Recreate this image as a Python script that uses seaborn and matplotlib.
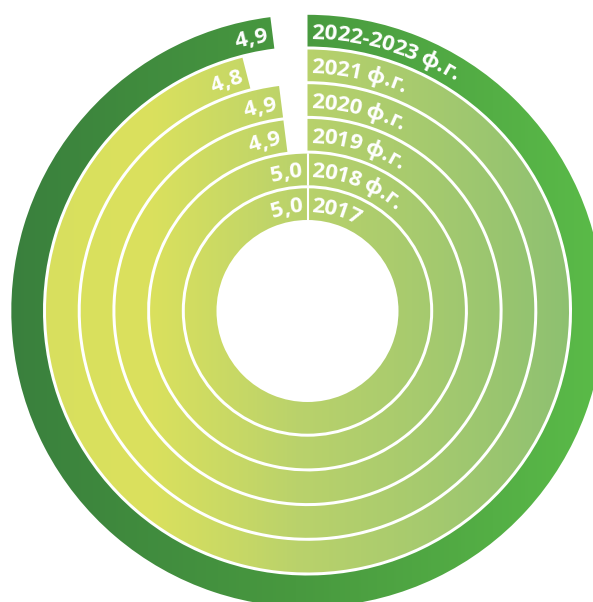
import numpy as np
import matplotlib
matplotlib.use("Agg")
import matplotlib.pyplot as plt
from matplotlib.patches import Wedge
from matplotlib.font_manager import FontProperties
import seaborn as sns

# данные: рейтинг по годам (шкала до 5)
years = ["2017", "2018 ф.г.", "2019 ф.г.", "2020 ф.г.", "2021 ф.г.", "2022-2023 ф.г."]
values = [5.0, 5.0, 4.9, 4.9, 4.8, 4.9]
value_labels = ["5,0", "5,0", "4,9", "4,9", "4,8", "4,9"]
scale_max = 5.0

W, H = 593, 602
cx, cy = 307.5, H - 311
r_hole = 91
ring_w = 31.7
gap = 3

sns.set_theme(style="white")
plt.rcParams['font.family'] = ['Open Sans', 'DejaVu Sans']

fig = plt.figure(figsize=(W / 100, H / 100), dpi=100)
ax = fig.add_axes([0, 0, 1, 1])
ax.set_xlim(0, W)
ax.set_ylim(0, H)
ax.axis('off')

# градиенты слева направо
inner_cmap = sns.blend_palette(["#d7df5f", "#dbe15d", "#bad26b", "#a3c96f", "#8abf71"], as_cmap=True)
outer_cmap = sns.blend_palette(["#397f3d", "#48993f", "#5aba48"], as_cmap=True)
grad = np.linspace(0, 1, W)[None, :]

fp = FontProperties(family=['Open Sans', 'DejaVu Sans'], weight='bold', size=16)
renderer = fig.canvas.get_renderer()


def tw(s):
    return renderer.get_text_width_height_descent(s, fp, ismath=False)[0]


def advances(s):
    base = tw("HH")
    return [tw("H" + c + "H") - base for c in s]


def arc_text(s, r_mid, s_start, track=0.0):
    cap = fp.get_size_in_points() * 100 / 72 * 0.714
    r_base = r_mid - cap / 2
    adv = [a + track for a in advances(s)]
    pos = s_start
    for c, a in zip(s, adv):
        sc = pos + a / 2
        ang = np.pi / 2 - sc / r_mid
        ax.text(cx + r_base * np.cos(ang), cy + r_base * np.sin(ang), c,
                fontproperties=fp, color='white', ha='center', va='baseline',
                rotation=np.degrees(ang) - 90, rotation_mode='anchor', zorder=5)
        pos += a


n = len(years)
for i in range(n):
    r_in = r_hole + i * (ring_w + gap)
    r_out = r_in + ring_w
    r_mid = (r_in + r_out) / 2
    sweep = values[i] / scale_max * 360
    cmap = outer_cmap if i == n - 1 else inner_cmap
    im = ax.imshow(grad, cmap=cmap, extent=[0, W, 0, H], aspect='auto', origin='lower', zorder=1)
    w = Wedge((cx, cy), r_out, 90 - sweep, 90, width=ring_w, facecolor='none', edgecolor='none')
    ax.add_patch(w)
    im.set_clip_path(w)
    if values[i] >= scale_max:
        ax.plot([cx, cx], [cy + r_in, cy + r_out], color='white', lw=1.5, zorder=3)
    # подпись года по дуге
    arc_text(years[i], r_mid, 4)
    # значение в конце дуги
    total = sum(advances(value_labels[i]))
    s_end = np.radians(sweep) * r_mid - 6
    arc_text(value_labels[i], r_mid, s_end - total)

fig.savefig("out.png", dpi=100)
